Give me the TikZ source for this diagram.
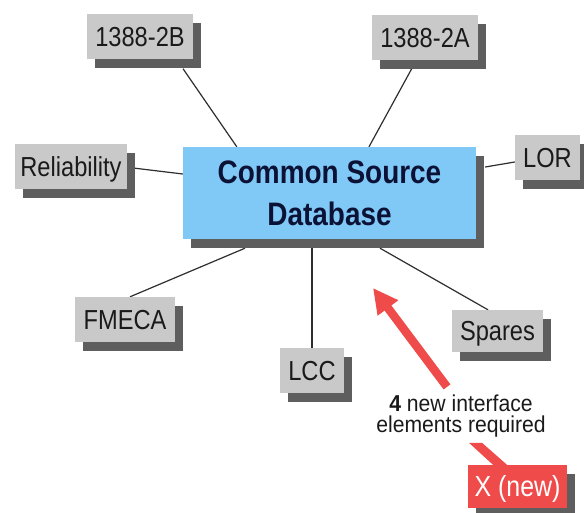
\documentclass[tikz,border=0pt]{standalone}
\usepackage{fontspec}
\setmainfont{Liberation Sans}
\newfontfamily\narrowsf[FakeStretch=0.86]{Liberation Sans}
\newfontfamily\notesf[FakeStretch=0.92]{Liberation Sans}
\usetikzlibrary{shadows,arrows.meta,calc,backgrounds}

\definecolor{boxgray}{HTML}{C9C9C9}
\definecolor{shadegray}{HTML}{5E5E5E}
\definecolor{dbblue}{HTML}{80C8F6}
\definecolor{alertred}{HTML}{EF4B4B}
\definecolor{navy}{HTML}{0C1236}
\definecolor{ink}{HTML}{1A1A1A}
\definecolor{wire}{HTML}{2E2E2E}

\tikzset{
  boxshadow/.style={drop shadow={shadow xshift=8pt, shadow yshift=-9pt, opacity=1, fill=shadegray}},
  labelbox/.style={boxshadow, fill=boxgray, text=ink, inner sep=0pt,
    font=\narrowsf\fontsize{27.5}{30}\selectfont,
    text height=19.5pt, text depth=0pt, minimum height=45pt},
  dbbox/.style={boxshadow, fill=dbblue, text=navy, inner sep=0pt, align=center,
    font=\narrowsf\bfseries\fontsize{32.5}{42}\selectfont,
    minimum width=293pt, minimum height=92pt},
  newbox/.style={labelbox, fill=alertred, text=white, font=\narrowsf\fontsize{29}{32}\selectfont},
  notetext/.style={inner sep=0pt, align=center, text=ink,
    font=\notesf\fontsize{23}{21}\selectfont},
  wireline/.style={draw=wire, line width=1.2pt},
  redarrow/.style={draw=alertred, line width=8.5pt, -{Triangle[length=25pt,width=24pt]}}
}

\begin{document}
\begin{tikzpicture}[x=1pt,y=1pt]
  \useasboundingbox (0,0) rectangle (584,512);

  % central database and the surrounding tools
  \node[dbbox] (csdb) at (329.5,319) {Common Source\\Database};
  \node[labelbox, minimum width=106pt] (b2B) at (140,475) {1388-2B};
  \node[labelbox, minimum width=106pt] (a2A) at (425,474.5) {1388-2A};
  \node[labelbox, minimum width=112pt] (rel) at (71,345.5) {Reliability};
  \node[labelbox, minimum width=65pt] (lor) at (547.5,354.5) {LOR};
  \node[labelbox, minimum width=100pt] (fmeca) at (125,192.5) {FMECA};
  \node[labelbox, minimum width=64pt] (lcc) at (312,141.5) {LCC};
  \node[labelbox, minimum width=91pt, minimum height=42pt] (spares) at (497.5,181) {Spares};
  \node[newbox, minimum width=99pt, minimum height=43pt] (xnew) at (517.5,25.5) {X (new)};

  \node[notetext] (note) at (461,95.7) {\textbf{4} new interface\\elements required};
  \coordinate (tip) at (373,224);

  % white page, then the interface links beneath the boxes
  \begin{scope}[on background layer]
    \fill[white] (0,0) rectangle (584,512);
    \draw[wireline] ($(b2B.south)+(43,-9)$) -- ($(csdb.north west)+(54,0)$);
    \draw[wireline] ($(a2A.south)+(-13,-8)$) -- ($(csdb.north)+(39.5,0)$);
    \draw[wireline] ($(rel.east)+(6,-1.5)$) -- ($(csdb.west)+(0,19)$);
    \draw[wireline] ($(csdb.east)+(9,26)$) -- ($(lor.west)+(0,-4.5)$);
    \draw[wireline] ($(fmeca.north)+(5,0)$) -- ($(csdb.south)+(-84.5,-9)$);
    \draw[wireline] ($(csdb.south)+(-17.5,-9)$) -- (lcc.north);
    \draw[wireline] ($(spares.north)+(-9.5,0)$) -- ($(csdb.south)+(50.5,-9)$);
  \end{scope}

  % callout pointing at the new interfaces
  \draw[redarrow] ($(note.north)+(-14,8)$) -- (tip);
  \fill[alertred] ($(xnew.north)+(-48.5,22)$) -- ($(xnew.north)+(-35.5,22)$)
    -- ($(xnew.north)+(-10.5,0)$) -- ($(xnew.north)+(-24.5,0)$) -- cycle;
\end{tikzpicture}
\end{document}
